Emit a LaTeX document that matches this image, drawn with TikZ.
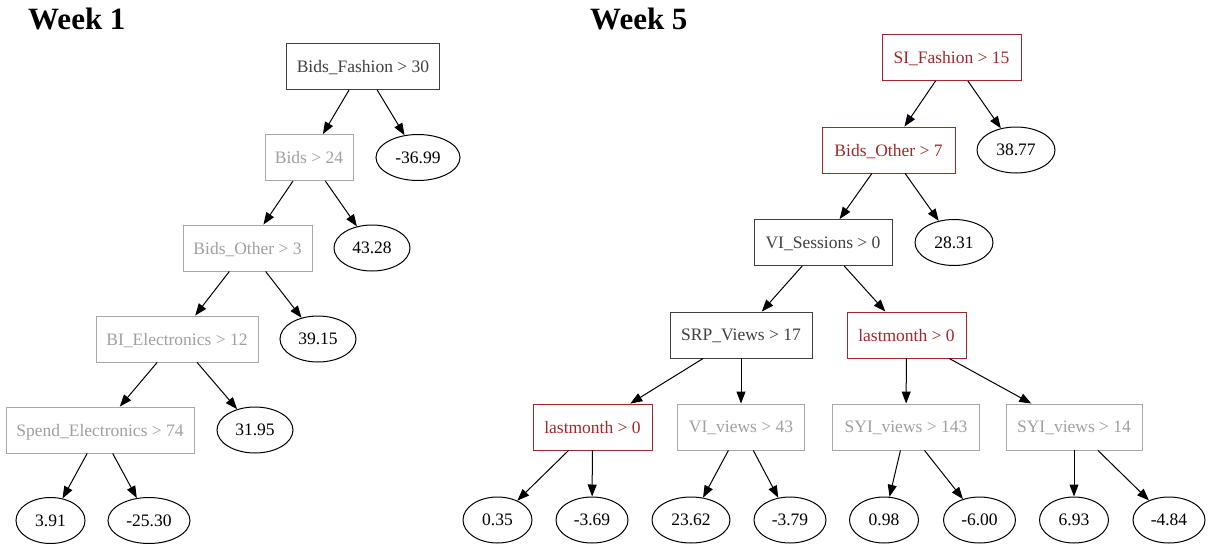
\documentclass[tikz,border=0pt]{standalone}
\usepackage{fontspec}
\setmainfont{Liberation Serif}
\usetikzlibrary{shapes.geometric,arrows.meta}
\definecolor{dk}{HTML}{404040}
\definecolor{lt}{HTML}{A0A0A0}
\definecolor{ltb}{HTML}{A8A8A8}
\definecolor{rd}{HTML}{A0282A}
\tikzset{
  nodefont/.style={font=\fontsize{17.5}{20}\selectfont},
  box/.style={draw, rectangle, minimum height=46pt, inner sep=0pt, text depth=0pt, nodefont, line width=0.9pt},
  darkbox/.style={box, draw=dk, text=dk},
  greybox/.style={box, draw=ltb, text=lt},
  redbox/.style={box, draw=rd, text=rd},
  leaf/.style={draw=black, ellipse, minimum height=46pt, inner sep=0pt, text depth=0pt, nodefont, line width=1pt, text=black},
  edge/.style={-{Triangle[length=12pt,width=9pt]}, line width=1pt, black},
  title/.style={anchor=base west, inner sep=0pt, font=\bfseries\fontsize{31}{36}\selectfont}
}
\begin{document}
\begin{tikzpicture}[x=1pt,y=-1pt]
\useasboundingbox (0,0) rectangle (1210,546);
% titles
\node[title] (t1) at (28,29) {Week 1};
\node[title] (t5) at (590,29) {Week 5};
% Week 1
\node[darkbox, minimum width=153pt] (b1) at (363,66.5) {Bids\_Fashion > 30};
\node[greybox, minimum width=88pt] (b2) at (309,157.5) {Bids > 24};
\node[leaf, minimum width=84pt] (l1) at (418,157.5) {-36.99};
\node[greybox, minimum width=129pt] (b3) at (247.5,248) {Bids\_Other > 3};
\node[leaf, minimum width=76pt] (l2) at (372,248) {43.28};
\node[greybox, minimum width=162pt] (b4) at (177,339) {BI\_Electronics > 12};
\node[leaf, minimum width=76pt] (l3) at (318,339) {39.15};
\node[greybox, minimum width=188pt] (b5) at (100,430) {Spend\_Electronics > 74};
\node[leaf, minimum width=76pt] (l4) at (255,430) {31.95};
\node[leaf, minimum width=69pt] (l5) at (50.5,520.5) {3.91};
\node[leaf, minimum width=82pt] (l6) at (149,520.5) {-25.30};
\draw[edge] (b1) -- (b2);
\draw[edge] (b1) -- (l1);
\draw[edge] (b2) -- (b3);
\draw[edge] (b2) -- (l2);
\draw[edge] (b3) -- (b4);
\draw[edge] (b3) -- (l3);
\draw[edge] (b4) -- (b5);
\draw[edge] (b4) -- (l4);
\draw[edge] (b5) -- (l5);
\draw[edge] (b5) -- (l6);
% Week 5
\node[redbox, minimum width=139pt] (c1) at (951.5,57.5) {SI\_Fashion > 15};
\node[redbox, minimum width=133pt] (c2) at (888.5,150) {Bids\_Other > 7};
\node[leaf, minimum width=78pt] (m1) at (1016,150) {38.77};
\node[darkbox, minimum width=138pt] (c3) at (823,242.5) {VI\_Sessions > 0};
\node[leaf, minimum width=78pt] (m2) at (954,242.5) {28.31};
\node[darkbox, minimum width=142pt] (c4) at (741,335) {SRP\_Views > 17};
\node[redbox, minimum width=119pt] (c5) at (906.5,335) {lastmonth > 0};
\node[redbox, minimum width=119pt] (c6) at (592.5,427) {lastmonth > 0};
\node[greybox, minimum width=127pt] (c7) at (741,427) {VI\_views > 43};
\node[greybox, minimum width=147pt] (c8) at (906,427) {SYI\_views > 143};
\node[greybox, minimum width=136pt] (c9) at (1074,427) {SYI\_views > 14};
\node[leaf, minimum width=69pt] (m3) at (497.5,520) {0.35};
\node[leaf, minimum width=72pt] (m4) at (592,520) {-3.69};
\node[leaf, minimum width=78pt] (m5) at (691,520) {23.62};
\node[leaf, minimum width=72pt] (m6) at (790,520) {-3.79};
\node[leaf, minimum width=69pt] (m7) at (884,520) {0.98};
\node[leaf, minimum width=72pt] (m8) at (979.5,520) {-6.00};
\node[leaf, minimum width=69pt] (m9) at (1074,520) {6.93};
\node[leaf, minimum width=72pt] (m10) at (1169,520) {-4.84};
\draw[edge] (c1) -- (c2);
\draw[edge] (c1) -- (m1);
\draw[edge] (c2) -- (c3);
\draw[edge] (c2) -- (m2);
\draw[edge] (c3) -- (c4);
\draw[edge] (c3) -- (c5);
\draw[edge] (c4) -- (c6);
\draw[edge] (c4) -- (c7);
\draw[edge] (c5) -- (c8);
\draw[edge] (c5) -- (c9);
\draw[edge] (c6) -- (m3);
\draw[edge] (c6) -- (m4);
\draw[edge] (c7) -- (m5);
\draw[edge] (c7) -- (m6);
\draw[edge] (c8) -- (m7);
\draw[edge] (c8) -- (m8);
\draw[edge] (c9) -- (m9);
\draw[edge] (c9) -- (m10);
\end{tikzpicture}
\end{document}
